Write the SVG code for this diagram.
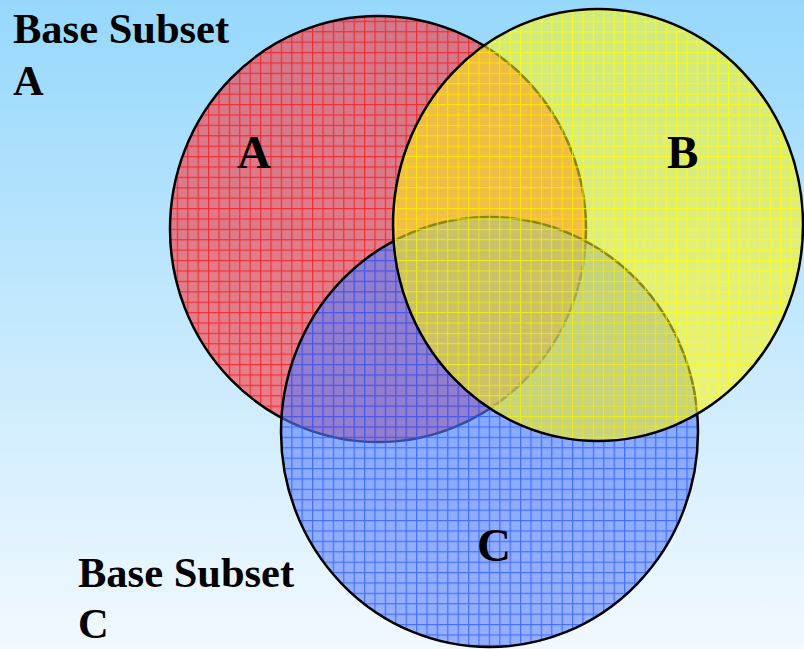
<svg xmlns="http://www.w3.org/2000/svg" width="804" height="649" viewBox="0 0 804 649">
  <defs>
    <linearGradient id="bg" x1="0" y1="0" x2="0" y2="1">
      <stop offset="0" stop-color="#96D8FC"/>
      <stop offset="1" stop-color="#F2F9FF"/>
    </linearGradient>
    <!-- translucent grid fills: soft base tint with stronger 1px grid lines -->
    <pattern id="gridRed" patternUnits="userSpaceOnUse" width="10.4" height="10.4">
      <rect width="10.4" height="10.4" fill="#F8363D" fill-opacity="0.6"/>
      <path d="M0 0.6H10.4M0.6 0V10.4" stroke="#FF1010" stroke-opacity="0.72" stroke-width="1.2"/>
    </pattern>
    <pattern id="gridYellow" patternUnits="userSpaceOnUse" width="10.4" height="10.4">
      <rect width="10.4" height="10.4" fill="#FFF514" fill-opacity="0.55"/>
      <path d="M0 0.6H10.4M0.6 0V10.4" stroke="#FFFF00" stroke-opacity="0.75" stroke-width="1.2"/>
    </pattern>
    <pattern id="gridBlue" patternUnits="userSpaceOnUse" width="10.4" height="10.4">
      <rect width="10.4" height="10.4" fill="#587FFF" fill-opacity="0.6"/>
      <path d="M0 0.6H10.4M0.6 0V10.4" stroke="#2858FF" stroke-opacity="0.72" stroke-width="1.2"/>
    </pattern>
  </defs>
  <style>
    .set { stroke: #000; stroke-width: 2.5; }
    .lbl { font-family: "Liberation Serif", "Times New Roman", serif; font-weight: bold; fill: #000; }
    .cap { font-size: 42.5px; }
    .big { font-size: 47px; }
  </style>

  <rect x="0" y="0" width="804" height="649" fill="url(#bg)"/>

  <g id="set-a">
    <ellipse class="set" cx="378" cy="229" rx="208" ry="213" fill="url(#gridRed)"/>
    <text class="lbl big" x="237" y="168">A</text>
  </g>

  <g id="set-c">
    <ellipse class="set" cx="489.5" cy="432" rx="208.5" ry="215" fill="url(#gridBlue)"/>
    <text class="lbl big" x="477" y="561">C</text>
  </g>

  <g id="set-b">
    <ellipse class="set" cx="598" cy="225" rx="205" ry="216" fill="url(#gridYellow)"/>
    <text class="lbl big" x="667" y="168">B</text>
  </g>

  <g id="caption-a">
    <text class="lbl cap" x="13" y="43">Base Subset</text>
    <text class="lbl cap" x="13" y="95">A</text>
  </g>

  <g id="caption-c">
    <text class="lbl cap" x="78" y="587">Base Subset</text>
    <text class="lbl cap" x="78" y="638">C</text>
  </g>
</svg>
